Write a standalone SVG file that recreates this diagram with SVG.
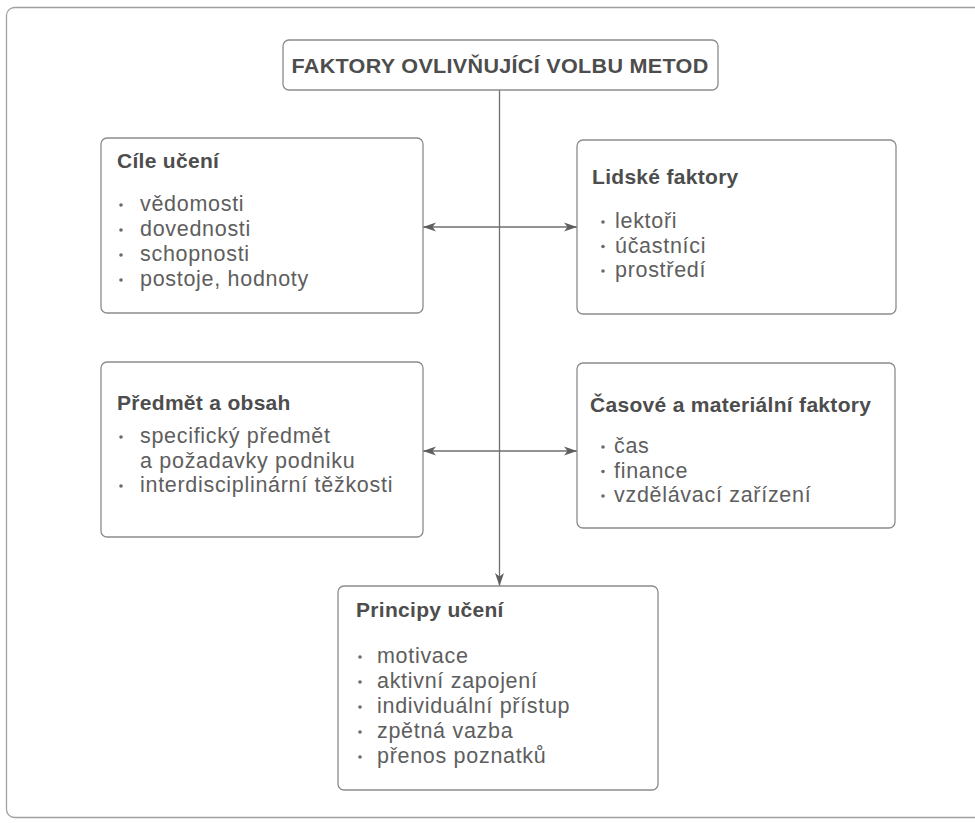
<svg xmlns="http://www.w3.org/2000/svg" width="975" height="823" viewBox="0 0 975 823">
  <defs>
    <marker id="arr" viewBox="0 0 13 10" refX="13" refY="5" markerWidth="13" markerHeight="10" markerUnits="userSpaceOnUse" orient="auto-start-reverse">
      <path d="M0,0.5 L13,5 L0,9.5 L3.5,5 Z" fill="#5e5e5e"/>
    </marker>
    <style>
      .box { fill: #ffffff; stroke: #8c8c8c; stroke-width: 1.3; }
      .frame { fill: none; stroke: #a0a0a0; stroke-width: 1.3; }
      .head { font-family: "Liberation Sans", Arial, sans-serif; font-weight: bold; font-size: 21px; letter-spacing: 0.3px; fill: #4d4d4d; }
      .item { font-family: "Liberation Sans", Arial, sans-serif; font-size: 21.5px; letter-spacing: 0.7px; fill: #5e5e5e; }
      .dot { fill: #6a6a6a; }
      .conn { stroke: #6e6e6e; stroke-width: 1.3; fill: none; }
    </style>
  </defs>
  <rect x="0" y="0" width="975" height="823" fill="#ffffff"/>
  <rect class="frame" x="6.5" y="7.5" width="1000" height="810" rx="8"/>

  <g id="connectors">
    <line class="conn" x1="499.5" y1="90" x2="499.5" y2="586" marker-end="url(#arr)"/>
    <line class="conn" x1="423" y1="227" x2="577" y2="227" marker-start="url(#arr)" marker-end="url(#arr)"/>
    <line class="conn" x1="423" y1="451" x2="577" y2="451" marker-start="url(#arr)" marker-end="url(#arr)"/>
  </g>

  <g id="node-title">
    <rect class="box" x="283" y="40" width="435" height="50" rx="6"/>
    <text class="head" x="500" y="73" text-anchor="middle" textLength="417" lengthAdjust="spacingAndGlyphs">FAKTORY OVLIVŇUJÍCÍ VOLBU METOD</text>
  </g>

  <g id="node-cile">
    <rect class="box" x="101" y="138" width="322" height="175" rx="6"/>
    <text class="head" x="117" y="168">Cíle učení</text>
    <circle class="dot" cx="121" cy="205" r="1.8"/>
    <circle class="dot" cx="121" cy="230" r="1.8"/>
    <circle class="dot" cx="121" cy="255" r="1.8"/>
    <circle class="dot" cx="121" cy="280" r="1.8"/>
    <text class="item" x="140" y="211">vědomosti</text>
    <text class="item" x="140" y="236">dovednosti</text>
    <text class="item" x="140" y="261">schopnosti</text>
    <text class="item" x="140" y="286">postoje, hodnoty</text>
  </g>

  <g id="node-lidske">
    <rect class="box" x="577" y="140" width="319" height="174" rx="6"/>
    <text class="head" x="592" y="184">Lidské faktory</text>
    <circle class="dot" cx="603" cy="222" r="1.8"/>
    <circle class="dot" cx="603" cy="246.5" r="1.8"/>
    <circle class="dot" cx="603" cy="271" r="1.8"/>
    <text class="item" x="615" y="228">lektoři</text>
    <text class="item" x="615" y="252.5">účastníci</text>
    <text class="item" x="615" y="277">prostředí</text>
  </g>

  <g id="node-predmet">
    <rect class="box" x="101" y="362" width="322" height="175" rx="6"/>
    <text class="head" x="117" y="410">Předmět a obsah</text>
    <circle class="dot" cx="121" cy="437" r="1.8"/>
    <circle class="dot" cx="121" cy="486" r="1.8"/>
    <text class="item" x="140" y="443">specifický předmět</text>
    <text class="item" x="140" y="467.5">a požadavky podniku</text>
    <text class="item" x="140" y="492">interdisciplinární těžkosti</text>
  </g>

  <g id="node-casove">
    <rect class="box" x="577" y="363" width="318" height="165" rx="6"/>
    <text class="head" x="590" y="412">Časové a materiální faktory</text>
    <circle class="dot" cx="603" cy="447" r="1.8"/>
    <circle class="dot" cx="603" cy="471.5" r="1.8"/>
    <circle class="dot" cx="603" cy="496" r="1.8"/>
    <text class="item" x="614" y="453">čas</text>
    <text class="item" x="614" y="477.5">finance</text>
    <text class="item" x="614" y="502">vzdělávací zařízení</text>
  </g>

  <g id="node-principy">
    <rect class="box" x="338" y="586" width="320" height="204" rx="6"/>
    <text class="head" x="356" y="617">Principy učení</text>
    <circle class="dot" cx="360" cy="657" r="1.8"/>
    <circle class="dot" cx="360" cy="682" r="1.8"/>
    <circle class="dot" cx="360" cy="707" r="1.8"/>
    <circle class="dot" cx="360" cy="732" r="1.8"/>
    <circle class="dot" cx="360" cy="757" r="1.8"/>
    <text class="item" x="377" y="663">motivace</text>
    <text class="item" x="377" y="688">aktivní zapojení</text>
    <text class="item" x="377" y="713">individuální přístup</text>
    <text class="item" x="377" y="738">zpětná vazba</text>
    <text class="item" x="377" y="763">přenos poznatků</text>
  </g>
</svg>
